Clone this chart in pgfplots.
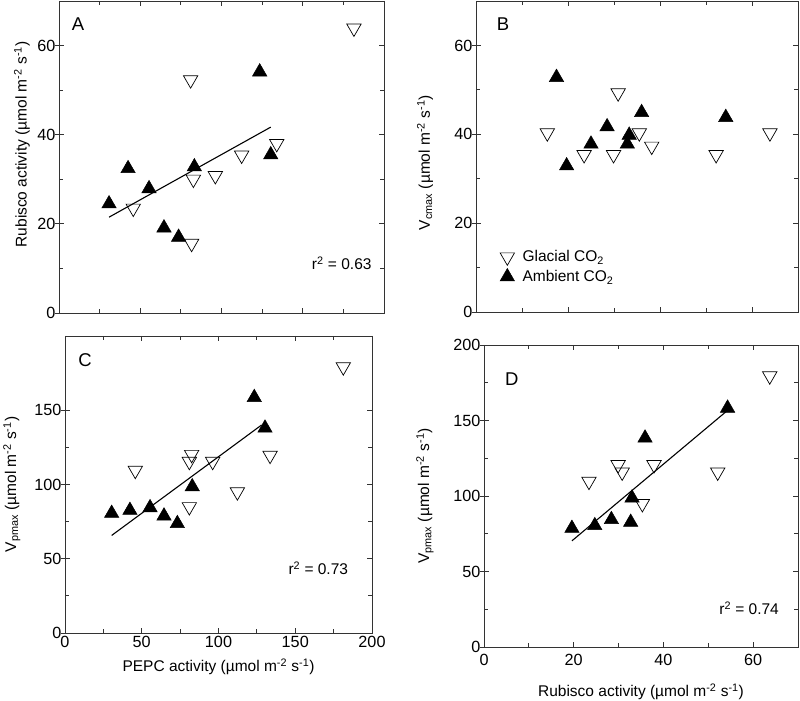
\documentclass[border=0pt]{standalone}
\usepackage{fontspec}
\setmainfont{Liberation Sans}
\usepackage{pgfplots}
\pgfplotsset{compat=1.18}
\newcommand{\unitlab}{(µmol m\textsuperscript{-2} s\textsuperscript{-1})}
\tikzset{
  letter/.style={font=\fontsize{18.5}{20}\selectfont},
  rsq/.style={font=\fontsize{15.5}{18}\selectfont},
}
\pgfplotsset{
  panel/.style={
    scale only axis, anchor=south west,
    axis line style={black!80, line width=0.9pt},
    every tick/.style={black!80, line width=0.8pt},
    tick align=inside,
    major tick length=5pt, minor tick length=4pt,
    minor tick num=1,
    tick label style={font=\fontsize{16.2}{18}\selectfont},
    label style={font=\fontsize{15.5}{18}\selectfont},
    /pgf/number format/assume math mode=true,
    extra y tick style={tick align=outside, ytick pos=left, major tick length=4pt},
    extra y tick labels={},
  },
  glac/.style={only marks, mark=triangle, mark size=8.3pt, mark options={rotate=180, draw=black, fill=white, line width=0.7pt},
    legend image code/.code={\path (0pt,0pt) (20pt,0pt); \draw[##1, mark repeat=2, mark phase=2] plot coordinates {(0pt,0pt)(7pt,0pt)(14pt,0pt)};}},
  amb/.style={only marks, mark=triangle*, mark size=8.3pt, mark options={draw=black, fill=black, line width=0.5pt},
    legend image code/.code={\path (0pt,0pt) (20pt,0pt); \draw[##1, mark repeat=2, mark phase=2] plot coordinates {(0pt,0pt)(7pt,0pt)(14pt,0pt)};}},
  fitline/.style={black, line width=1.1pt, no marks},
}
\begin{document}
\begin{tikzpicture}[x=1pt,y=1pt]
\path[use as bounding box] (0,0) rectangle (800,701);
% Panel A
\begin{axis}[panel, at={(59pt,388pt)}, width=325pt, height=312pt,
  xmin=0, xmax=200, ymin=0, ymax=70,
  xtick={0,50,...,200}, xticklabels={},
  ytick={0,20,40,60}, extra y ticks={0,20,40,60},
  ylabel={Rubisco activity \unitlab},
  ylabel style={at={(axis description cs:-0.114,0.54)}, anchor=center}]
\addplot[glac] coordinates {(181.5,63.9)(81,52.3)(45.7,23.5)(82.7,30.0)(96.2,30.8)(112.4,35.4)(134,38.0)(81.6,15.6)};
\addplot[amb] coordinates {(30.8,24.5)(42.5,32.4)(55.4,27.9)(64.6,19.1)(73.6,17.0)(83.3,32.8)(123.5,54.1)(130.3,35.5)};
\addplot[fitline] coordinates {(30.8,21.5)(130.3,41.7)};
\node[letter] at (axis cs:11.7,64.7) {A};
\node[rsq] at (axis cs:174,11.2) {r\textsuperscript{2} = 0.63};
\end{axis}
% Panel B
\begin{axis}[panel, at={(476pt,389pt)}, width=322pt, height=311pt,
  xmin=0, xmax=70, ymin=0, ymax=70,
  xtick={0,20,40,60}, xticklabels={},
  ytick={0,20,40,60}, extra y ticks={0,20,40,60},
  ylabel={V\textsubscript{cmax} \unitlab},
  ylabel style={at={(axis description cs:-0.158,0.48)}, anchor=center},
  legend style={draw=none, fill=none, at={(axis cs:5.2,10.15)}, anchor=west, font=\fontsize{15.5}{18}\selectfont, inner sep=0pt, row sep=3pt},
  legend cell align=left]
\addplot[glac] coordinates {(15.5,40.3)(23.5,35.4)(29.9,35.4)(30.9,49.3)(35.5,40.3)(38.2,37.3)(52.2,35.4)(63.9,40.3)};
\addlegendentry{Glacial CO\textsubscript{2}}
\addplot[amb] coordinates {(17.5,52.8)(19.7,32.9)(25,37.8)(28.5,41.7)(32.9,37.8)(33.3,39.8)(36,44.9)(54.3,43.8)};
\addlegendentry{Ambient CO\textsubscript{2}}
\node[letter] at (axis cs:5.9,64.9) {B};
\end{axis}
% Panel C
\begin{axis}[panel, at={(65pt,68pt)}, width=307pt, height=297pt,
  xmin=0, xmax=200, ymin=0, ymax=200,
  xtick={0,50,...,200},
  ytick={0,50,100,150}, extra y ticks={0,50,100,150},
  xlabel={PEPC activity \unitlab},
  xlabel style={at={(axis description cs:0.5,-0.114)}, anchor=center},
  ylabel={V\textsubscript{pmax} \unitlab},
  ylabel style={at={(axis description cs:-0.173,0.5)}, anchor=center}]
\addplot[glac] coordinates {(181.3,179.2)(45.8,109.5)(82.5,120.2)(81,115.5)(96.2,115.5)(133.6,119.6)(112.3,95.0)(81,85.0)};
\addplot[amb] coordinates {(30.4,80.6)(42.3,82.6)(55.4,84.4)(64.5,78.8)(73.2,73.7)(82.9,98.5)(123.3,158.6)(130.3,138.0)};
\addplot[fitline] coordinates {(30.4,65.7)(128.1,140.1)};
\node[letter] at (axis cs:13,184) {C};
\node[rsq] at (axis cs:165,43.4) {r\textsuperscript{2} = 0.73};
\end{axis}
% Panel D
\begin{axis}[panel, at={(484pt,54pt)}, width=314pt, height=302pt,
  xmin=0, xmax=70, ymin=0, ymax=200,
  xtick={0,20,40,60},
  xticklabel style={yshift=-4pt},
  ytick={0,50,...,200}, extra y ticks={0,50,...,200},
  xlabel={Rubisco activity \unitlab},
  xlabel style={at={(axis description cs:0.5,-0.149)}, anchor=center},
  ylabel={V\textsubscript{pmax} \unitlab},
  ylabel style={at={(axis description cs:-0.188,0.5)}, anchor=center}]
\addplot[glac] coordinates {(63.7,179.5)(23.4,109.7)(29.9,120.7)(30.8,115.8)(37.9,120.7)(52.1,115.8)(35.3,94.9)};
\addplot[amb] coordinates {(19.6,78.6)(24.7,80.4)(28.4,84.4)(32.7,82.6)(33.0,98.7)(35.9,138.4)(54.3,158.2)};
\addplot[fitline] coordinates {(19.6,70.3)(54.3,156.7)};
\node[letter] at (axis cs:6.2,177.7) {D};
\node[rsq] at (axis cs:59.1,25.6) {r\textsuperscript{2} = 0.74};
\end{axis}
\end{tikzpicture}
\end{document}
